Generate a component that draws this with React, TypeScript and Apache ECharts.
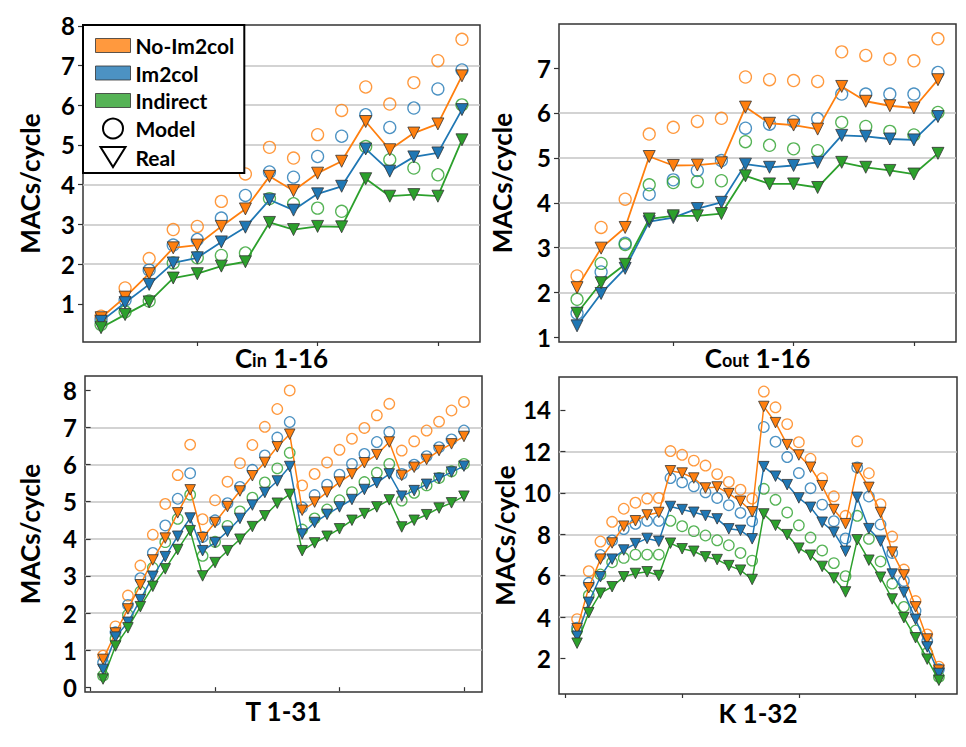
import React, { useEffect, useRef } from "react";
import * as echarts from "echarts";

// ---------- data ----------
const cinX = [1, 2, 3, 4, 5, 6, 7, 8, 9, 10, 11, 12, 13, 14, 15, 16];
const cinNoIm2colModel = [0.69, 1.40, 2.14, 2.87, 2.95, 3.58, 4.27, 4.94, 4.67, 5.26, 5.87, 6.46, 6.03, 6.57, 7.12, 7.66];
const cinNoIm2colReal = [0.65, 1.17, 1.76, 2.41, 2.48, 2.95, 3.39, 4.21, 3.85, 4.29, 4.59, 5.59, 4.88, 5.30, 5.53, 6.74];
const cinIm2colModel = [0.60, 1.10, 1.85, 2.48, 2.62, 3.16, 3.73, 4.32, 4.19, 4.71, 5.22, 5.76, 5.44, 5.93, 6.41, 6.89];
const cinIm2colReal = [0.56, 1.03, 1.49, 2.03, 2.16, 2.56, 2.93, 3.62, 3.36, 3.77, 3.96, 4.90, 4.34, 4.70, 4.80, 5.89];
const cinIndirectModel = [0.48, 0.80, 1.07, 2.03, 2.16, 2.22, 2.28, 3.65, 3.52, 3.41, 3.33, 4.96, 4.63, 4.42, 4.25, 6.01];
const cinIndirectReal = [0.40, 0.73, 1.05, 1.65, 1.76, 1.95, 2.06, 3.05, 2.87, 2.95, 2.94, 4.15, 3.71, 3.75, 3.71, 5.13];

const coutX = [1, 2, 3, 4, 5, 6, 7, 8, 9, 10, 11, 12, 13, 14, 15, 16];
const coutNoIm2colModel = [2.37, 3.45, 4.08, 5.53, 5.68, 5.81, 5.88, 6.80, 6.74, 6.72, 6.70, 7.36, 7.28, 7.20, 7.16, 7.65];
const coutNoIm2colReal = [2.11, 2.99, 3.45, 5.03, 4.83, 4.84, 4.89, 6.13, 5.77, 5.73, 5.64, 6.59, 6.26, 6.16, 6.11, 6.74];
const coutIm2colModel = [1.54, 2.46, 3.10, 4.19, 4.51, 4.72, 4.94, 5.66, 5.75, 5.81, 5.87, 6.42, 6.42, 6.42, 6.42, 6.90];
const coutIm2colReal = [1.26, 1.98, 2.54, 3.58, 3.67, 3.87, 4.01, 4.86, 4.79, 4.83, 4.90, 5.50, 5.48, 5.42, 5.40, 5.92];
const coutIndirectModel = [1.85, 2.65, 3.07, 4.40, 4.45, 4.47, 4.49, 5.36, 5.28, 5.20, 5.16, 5.79, 5.70, 5.59, 5.51, 6.01];
const coutIndirectReal = [1.54, 2.22, 2.63, 3.64, 3.71, 3.71, 3.76, 4.60, 4.42, 4.42, 4.34, 4.90, 4.79, 4.72, 4.64, 5.10];

const tX = [1, 2, 3, 4, 5, 6, 7, 8, 9, 10, 11, 12, 13, 14, 15, 16, 17, 18, 19, 20, 21, 22, 23, 24, 25, 26, 27, 28, 29, 30];
const tNoIm2colModel = [0.85, 1.64, 2.47, 3.28, 4.11, 4.94, 5.72, 6.54, 4.53, 5.04, 5.54, 6.04, 6.53, 7.02, 7.50, 8.00, 5.44, 5.75, 6.06, 6.40, 6.70, 6.99, 7.33, 7.64, 6.38, 6.63, 6.92, 7.16, 7.46, 7.69];
const tNoIm2colReal = [0.75, 1.46, 2.11, 2.76, 3.43, 4.02, 4.70, 5.32, 4.03, 4.44, 4.87, 5.29, 5.70, 6.06, 6.48, 6.82, 4.77, 4.99, 5.26, 5.53, 5.75, 6.05, 6.27, 6.61, 5.71, 5.93, 6.14, 6.38, 6.56, 6.76];
const tIm2colModel = [0.66, 1.48, 2.22, 2.94, 3.62, 4.36, 5.08, 5.77, 4.05, 4.50, 4.96, 5.40, 5.86, 6.25, 6.73, 7.15, 4.85, 5.18, 5.46, 5.73, 6.02, 6.29, 6.61, 6.88, 5.75, 6.00, 6.23, 6.47, 6.68, 6.92];
const tIm2colReal = [0.48, 1.35, 1.75, 2.36, 2.99, 3.52, 4.07, 4.56, 3.68, 3.90, 4.20, 4.55, 4.91, 5.25, 5.56, 5.95, 4.13, 4.44, 4.66, 4.86, 5.06, 5.33, 5.51, 5.75, 5.15, 5.30, 5.47, 5.63, 5.80, 5.96];
const tIndirectModel = [0.31, 1.30, 1.95, 2.58, 3.22, 3.91, 4.54, 5.19, 3.54, 3.92, 4.35, 4.74, 5.11, 5.52, 5.90, 6.32, 4.25, 4.55, 4.79, 5.04, 5.26, 5.53, 5.78, 6.02, 5.03, 5.24, 5.44, 5.64, 5.82, 6.02];
const tIndirectReal = [0.22, 1.11, 1.60, 2.17, 2.72, 3.19, 3.71, 4.22, 3.00, 3.36, 3.68, 3.99, 4.33, 4.62, 4.96, 5.20, 3.68, 3.89, 4.07, 4.27, 4.50, 4.68, 4.86, 5.05, 4.32, 4.50, 4.65, 4.83, 4.97, 5.15];

const kX = [1, 2, 3, 4, 5, 6, 7, 8, 9, 10, 11, 12, 13, 14, 15, 16, 17, 18, 19, 20, 21, 22, 23, 24, 25, 26, 27, 28, 29, 30, 31, 32];
const kNoIm2colModel = [3.91, 6.22, 7.65, 8.60, 9.23, 9.52, 9.72, 9.75, 12.01, 11.83, 11.55, 11.31, 10.90, 10.52, 10.15, 9.72, 14.88, 14.12, 13.31, 12.44, 11.64, 10.70, 9.83, 8.89, 12.48, 10.94, 9.45, 7.89, 6.30, 4.78, 3.17, 1.62];
const kNoIm2colReal = [3.45, 5.42, 6.80, 7.58, 8.39, 8.65, 8.93, 9.05, 11.06, 10.95, 10.71, 10.23, 10.28, 9.96, 9.59, 9.08, 14.16, 13.38, 12.32, 11.82, 11.23, 10.34, 9.19, 8.51, 11.18, 10.26, 9.05, 7.14, 6.04, 4.50, 2.95, 1.45];
const kIm2colModel = [3.50, 5.66, 7.00, 7.70, 8.25, 8.50, 8.65, 8.65, 10.71, 10.50, 10.31, 10.02, 9.75, 9.40, 9.03, 8.63, 13.17, 12.46, 11.72, 10.95, 10.22, 9.43, 8.63, 7.80, 11.22, 9.82, 8.47, 7.10, 5.75, 4.31, 2.85, 1.49];
const kIm2colReal = [3.08, 4.72, 5.95, 6.80, 7.24, 7.55, 7.80, 7.66, 9.34, 9.19, 9.06, 8.90, 8.74, 8.26, 8.19, 7.78, 11.26, 10.80, 10.39, 9.75, 9.30, 8.58, 8.10, 7.18, 9.78, 8.27, 7.67, 6.08, 5.20, 3.90, 2.57, 1.29];
const kIndirectModel = [3.36, 5.05, 6.06, 6.65, 6.86, 7.02, 7.02, 7.02, 8.65, 8.39, 8.15, 7.94, 7.71, 7.47, 7.10, 6.73, 10.19, 9.66, 9.05, 8.43, 7.84, 7.22, 6.61, 5.98, 8.89, 7.78, 6.69, 5.62, 4.50, 3.36, 2.28, 1.12];
const kIndirectReal = [2.75, 4.22, 5.16, 5.47, 5.95, 6.11, 6.19, 6.01, 7.57, 7.30, 7.18, 6.91, 6.78, 6.49, 6.27, 5.82, 8.98, 8.43, 7.98, 7.33, 6.99, 6.45, 5.89, 5.22, 7.73, 6.75, 5.93, 4.88, 3.98, 3.01, 1.98, 0.96];

// tick values
const cinYTicks = [1, 2, 3, 4, 5, 6, 7, 8];
const coutYTicks = [1, 2, 3, 4, 5, 6, 7];
const tYTicks = [0, 1, 2, 3, 4, 5, 6, 7, 8];
const kYTicks = [2, 4, 6, 8, 10, 12, 14];
const cinXTicks = [5, 10, 15];
const coutXTicks = [5, 10, 15];
const tXTicks = [0, 10, 20, 30];
const kXTicks = [0, 10, 20, 30];

const variantNames = ["No-Im2col", "Im2col", "Indirect"];
const variantColors = ["#ff7f0e", "#1f77b4", "#2ca02c"];

const FONT = "Lato";

const panels = [
  {
    x: cinX, model: [cinNoIm2colModel, cinIm2colModel, cinIndirectModel], real: [cinNoIm2colReal, cinIm2colReal, cinIndirectReal],
    xMin: 0.25, xMax: 16.75, yMin: 0.04, yMax: 8.02, yStep: 1, yTicks: cinYTicks, xTicks: cinXTicks,
    xName: "{a|C}{b|in}{a| 1-16}", grid: { left: 83, top: 25, width: 397, height: 317 }, yGap: 40, xGap: 3, ms: 12, lw: 1.8,
  },
  {
    x: coutX, model: [coutNoIm2colModel, coutIm2colModel, coutIndirectModel], real: [coutNoIm2colReal, coutIm2colReal, coutIndirectReal],
    xMin: 0.25, xMax: 16.75, yMin: 0.9, yMax: 7.98, yStep: 1, yTicks: coutYTicks, xTicks: coutXTicks,
    xName: "{a|C}{b|out}{a| 1-16}", grid: { left: 559, top: 24, width: 397, height: 318 }, yGap: 44, xGap: 3, ms: 12, lw: 1.8,
  },
  {
    x: tX, model: [tNoIm2colModel, tIm2colModel, tIndirectModel], real: [tNoIm2colReal, tIm2colReal, tIndirectReal],
    xMin: -0.45, xMax: 31.45, yMin: -0.13, yMax: 8.39, yStep: 1, yTicks: tYTicks, xTicks: tXTicks,
    xName: "{a|T 1-31}", grid: { left: 85, top: 376, width: 397, height: 316 }, yGap: 42, xGap: 6, ms: 10.5, lw: 1.5,
  },
  {
    x: kX, model: [kNoIm2colModel, kIm2colModel, kIndirectModel], real: [kNoIm2colReal, kIm2colReal, kIndirectReal],
    xMin: -0.55, xMax: 33.55, yMin: 0.3, yMax: 15.58, yStep: 2, yTicks: kYTicks, xTicks: kXTicks,
    xName: "{a|K 1-32}", grid: { left: 559, top: 377, width: 398, height: 317 }, yGap: 41, xGap: 6, ms: 10.5, lw: 1.5,
  },
];

function buildOption() {
  const grid: any[] = [];
  const xAxis: any[] = [];
  const yAxis: any[] = [];
  const series: any[] = [];

  panels.forEach((p, g) => {
    grid.push({
      ...p.grid,
      show: true,
      borderColor: "#333",
      borderWidth: 1.5,
      backgroundColor: "transparent",
      containLabel: false,
      outerBoundsMode: "none",
    });
    xAxis.push({
      type: "value",
      gridIndex: g,
      min: p.xMin,
      max: p.xMax,
      axisLine: { show: false },
      axisTick: { show: true, customValues: p.xTicks, length: 4, lineStyle: { color: "#333", width: 1.2 } },
      axisLabel: { show: false },
      splitLine: { show: false },
      name: p.xName,
      nameLocation: "middle",
      nameGap: p.xGap,
      nameTextStyle: {
        color: "#000",
        fontFamily: FONT,
        fontWeight: "bold",
        fontSize: 26,
        rich: {
          a: { fontFamily: FONT, fontWeight: "bold", fontSize: 26, color: "#000", verticalAlign: "bottom" },
          b: { fontFamily: FONT, fontWeight: "bold", fontSize: 18, color: "#000", verticalAlign: "bottom", padding: [0, 0, 2, 0] },
        },
      },
    });
    yAxis.push({
      type: "value",
      gridIndex: g,
      min: p.yMin,
      max: p.yMax,
      minInterval: p.yStep,
      maxInterval: p.yStep,
      axisLine: { show: false },
      axisTick: { show: true, customValues: p.yTicks, length: 5, lineStyle: { color: "#333", width: 1.2 } },
      axisLabel: {
        customValues: p.yTicks,
        fontFamily: FONT,
        fontWeight: "bold",
        fontSize: 24,
        color: "#000",
        margin: 8,
      },
      splitLine: { show: true, showMinLine: false, showMaxLine: false, lineStyle: { color: "#c4c4c4", width: 1.5 } },
      name: "MACs/cycle",
      nameLocation: "middle",
      nameRotate: 90,
      nameGap: p.yGap,
      nameTextStyle: { color: "#000", fontFamily: FONT, fontWeight: "bold", fontSize: 26 },
    });

    variantNames.forEach((name, v) => {
      const color = variantColors[v];
      series.push({
        type: "scatter",
        name,
        xAxisIndex: g,
        yAxisIndex: g,
        data: p.x.map((xv, i) => [xv, p.model[v][i]]),
        symbol: "circle",
        symbolSize: p.ms,
        itemStyle: { color: "rgba(0,0,0,0)", borderColor: color, borderWidth: 1.3 },
        silent: true,
        emphasis: { disabled: true },
      });
      series.push({
        type: "line",
        name,
        xAxisIndex: g,
        yAxisIndex: g,
        data: p.x.map((xv, i) => [xv, p.real[v][i]]),
        symbol: "triangle",
        symbolRotate: 180,
        symbolSize: p.ms,
        showSymbol: true,
        showAllSymbol: true,
        lineStyle: { color, width: p.lw },
        itemStyle: { color, borderColor: "#333", borderWidth: 0.8 },
        silent: true,
        emphasis: { disabled: true },
      });
    });
  });

  series.push({ type: "line", name: "Model", xAxisIndex: 0, yAxisIndex: 0, data: [] });
  series.push({ type: "line", name: "Real", xAxisIndex: 0, yAxisIndex: 0, data: [] });

  const rectIcon = "path://M0,0L35,0L35,14L0,14Z";
  const triIcon = "path://M0,0L20,0L10,16Z";

  return {
    animation: false,
    backgroundColor: "#fff",
    textStyle: { fontFamily: FONT },
    grid,
    xAxis,
    yAxis,
    series,
    legend: {
      show: true,
      left: 83,
      top: 25,
      orient: "vertical",
      padding: [10, 10, 5, 12],
      itemGap: 6.5,
      itemWidth: 35,
      itemHeight: 20,
      backgroundColor: "#fff",
      borderColor: "#000",
      borderWidth: 2,
      borderRadius: 0,
      selectedMode: false,
      textStyle: { fontFamily: FONT, fontWeight: "bold", fontSize: 21, color: "#000" },
      data: [
        { name: "No-Im2col", icon: rectIcon, itemStyle: { color: variantColors[0], borderColor: "#333", borderWidth: 1 } },
        { name: "Im2col", icon: rectIcon, itemStyle: { color: variantColors[1], borderColor: "#333", borderWidth: 1 } },
        { name: "Indirect", icon: rectIcon, itemStyle: { color: variantColors[2], borderColor: "#333", borderWidth: 1 } },
        { name: "Model", icon: "circle", itemStyle: { color: "#fff", borderColor: "#000", borderWidth: 2 } },
        { name: "Real", icon: triIcon, itemStyle: { color: "#fff", borderColor: "#000", borderWidth: 2 } },
      ],
    },
  };
}

export default function App() {
  const ref = useRef<HTMLDivElement>(null);
  useEffect(() => {
    if (!ref.current) return;
    const chart = echarts.init(ref.current, undefined, { renderer: "svg" });
    chart.setOption(buildOption() as any);
    return () => chart.dispose();
  }, []);
  return (
    <div
      ref={ref}
      style={{ position: "fixed", left: 0, top: 0, width: 966, height: 747, background: "#fff" }}
    />
  );
}
